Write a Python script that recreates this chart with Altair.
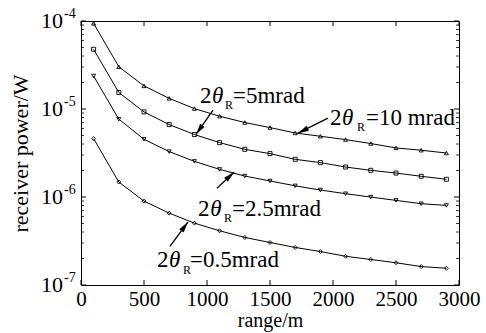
import altair as alt
import pandas as pd
import numpy as np

# ---------------- data ----------------
range_m = [100, 300, 500, 700, 900, 1100, 1300, 1500, 1700, 1900, 2100, 2300, 2500, 2700, 2900]
series_names = ["10 mrad", "5 mrad", "2.5 mrad", "0.5 mrad"]
p_10 = [9.4e-5, 3.02e-5, 1.83e-5, 1.32e-5, 1.01e-5, 8.28e-6, 7.02e-6, 6.15e-6, 5.34e-6, 4.90e-6,
        4.49e-6, 4.05e-6, 3.61e-6, 3.40e-6, 3.16e-6]
p_5 = [4.77e-5, 1.54e-5, 9.27e-6, 6.65e-6, 5.13e-6, 4.15e-6, 3.48e-6, 3.11e-6, 2.68e-6, 2.46e-6,
       2.19e-6, 2.01e-6, 1.87e-6, 1.72e-6, 1.59e-6]
p_25 = [2.37e-5, 7.66e-6, 4.53e-6, 3.28e-6, 2.54e-6, 2.06e-6, 1.73e-6, 1.52e-6, 1.34e-6, 1.20e-6,
        1.09e-6, 9.98e-7, 9.15e-7, 8.39e-7, 8.02e-7]
p_05 = [4.61e-6, 1.48e-6, 8.98e-7, 6.56e-7, 5.05e-7, 4.13e-7, 3.47e-7, 3.04e-7, 2.67e-7, 2.40e-7,
        2.12e-7, 1.95e-7, 1.79e-7, 1.62e-7, 1.55e-7]
x_ticks = [0, 500, 1000, 1500, 2000, 2500, 3000]
y_ticks = [1e-7, 1e-6, 1e-5, 1e-4]
y_exponents = ["-7", "-6", "-5", "-4"]

# annotation labels (2θ_R = ...)
ann_main = ["2", "2", "2", "2"]
ann_theta = ["θ", "θ", "θ", "θ"]
ann_value = ["=5mrad", "=10 mrad", "=2.5mrad", "=0.5mrad"]

# ---------------- layout ----------------
W, H = 378, 264
FONT = "Liberation Serif, Times New Roman, serif"
shapes = ["triangle-up", "square", "triangle-down", "diamond"]

rows = []
for name, vals in zip(series_names, [p_10, p_5, p_25, p_05]):
    for r, v in zip(range_m, vals):
        rows.append({"x": r, "y": v, "series": name})
df = pd.DataFrame(rows)

xs = alt.Scale(domain=[0, 3000], nice=False, zero=False)
ys = alt.Scale(type="log", domain=[1e-7, 1e-4], nice=False)

X = alt.X("x:Q", scale=xs)
Y = alt.Y("y:Q", scale=ys)

main_x = alt.X("x:Q", scale=xs, title="range/m",
               axis=alt.Axis(values=x_ticks, format="d", ticks=False, domain=False, grid=False,
                             labelFont=FONT, labelFontSize=21, labelColor="black",
                             labelPadding=3, labelFlush=False,
                             titleFont=FONT, titleFontSize=20, titleFontWeight="normal",
                             titleColor="black", titlePadding=1))
main_y = alt.Y("y:Q", scale=ys, title="receiver power/W",
               axis=alt.Axis(labels=False, ticks=False, domain=False, grid=False,
                             titleFont=FONT, titleFontSize=22, titleFontWeight="normal",
                             titleColor="black", titlePadding=49))

lines = alt.Chart(df).mark_line(color="black", strokeWidth=1).encode(
    x=main_x, y=main_y, detail="series:N")
points = alt.Chart(df).mark_point(filled=False, color="black", size=16, strokeWidth=0.9, opacity=1).encode(
    x=X, y=Y, shape=alt.Shape("series:N", scale=alt.Scale(domain=series_names, range=shapes), legend=None))

# ticks (inward)
xt = pd.DataFrame({"x": x_ticks})
minor = [m * d for d in [1e-7, 1e-6, 1e-5] for m in range(2, 10)]
yt = pd.DataFrame({"y": y_ticks})
ym = pd.DataFrame({"y": minor})
tick_layers = [
    alt.Chart(xt).mark_rule(color="black", strokeWidth=1).encode(x=X, y=alt.value(H), y2=alt.value(H - 5)),
    alt.Chart(xt).mark_rule(color="black", strokeWidth=1).encode(x=X, y=alt.value(0), y2=alt.value(5)),
    alt.Chart(yt).mark_rule(color="black", strokeWidth=1).encode(y=Y, x=alt.value(0), x2=alt.value(5)),
    alt.Chart(yt).mark_rule(color="black", strokeWidth=1).encode(y=Y, x=alt.value(W), x2=alt.value(W - 5)),
    alt.Chart(ym).mark_rule(color="black", strokeWidth=0.8).encode(y=Y, x=alt.value(0), x2=alt.value(3)),
    alt.Chart(ym).mark_rule(color="black", strokeWidth=0.8).encode(y=Y, x=alt.value(W), x2=alt.value(W - 3)),
]

# y tick labels as 10^n
ylab = pd.DataFrame({"y": y_ticks, "exp": y_exponents})
ten = alt.Chart(ylab).mark_text(font=FONT, fontSize=22, align="right", baseline="middle", color="black").encode(
    y=Y, x=alt.value(-18), text=alt.value("10"))
expo = alt.Chart(ylab).mark_text(font=FONT, fontSize=14, align="left", baseline="middle", color="black", dy=-7).encode(
    y=Y, x=alt.value(-17), text="exp:N")

# annotation placement (data units)
ann_x = [944, 1976, 929, 603]
ann_y = [1.17e-5, 6.58e-6, 6.08e-7, 1.60e-7]
theta_x = [1040, 2072, 1025, 699]
sub_x = [1143, 2190, 1135, 810]
sub_y = [1.0e-5, 5.62e-6, 5.2e-7, 1.33e-7]
val_x = [1206, 2262, 1198, 865]
tail_x = [1048, 1960, 1079, 706]
tail_y = [9.7e-6, 7.87e-6, 1.256e-6, 2.74e-7]
head_x = [913, 1722, 1214, 849]
head_y = [5.16e-6, 5.31e-6, 1.91e-6, 5.2e-7]

def px(x):
    return np.array(x) * W / 3000.0

def py(y):
    return (-4 - np.log10(np.array(y))) * H / 3.0

dxp = px(head_x) - px(tail_x)
dyp = py(head_y) - py(tail_y)
angles = (np.degrees(np.arctan2(dxp, -dyp)) + 360) % 360

two_df = pd.DataFrame({"x": ann_x, "y": ann_y, "t": ann_main})
theta_df = pd.DataFrame({"x": theta_x, "y": ann_y, "t": ann_theta})
sub_df = pd.DataFrame({"x": sub_x, "y": sub_y, "t": ["R"] * 4})
val_df = pd.DataFrame({"x": val_x, "y": ann_y, "t": ann_value})
arr_df = pd.DataFrame({"x": tail_x, "y": tail_y, "x2": head_x, "y2": head_y})
head_df = pd.DataFrame({"x": head_x, "y": head_y, "a": angles})

txt_kw = dict(font=FONT, align="left", baseline="alphabetic", color="black")
ann_layers = [
    alt.Chart(two_df).mark_text(fontSize=23, **txt_kw).encode(x=X, y=Y, text="t:N"),
    alt.Chart(theta_df).mark_text(fontSize=23, fontStyle="italic", **txt_kw).encode(x=X, y=Y, text="t:N"),
    alt.Chart(sub_df).mark_text(fontSize=12, **txt_kw).encode(x=X, y=Y, text="t:N"),
    alt.Chart(val_df).mark_text(fontSize=23, **txt_kw).encode(x=X, y=Y, text="t:N"),
    alt.Chart(arr_df).mark_rule(color="black", strokeWidth=1.3).encode(
        x=X, y=Y, x2="x2:Q", y2="y2:Q"),
    alt.Chart(head_df).mark_point(shape="M0,0L0.5,2L-0.5,2Z", filled=True, color="black",
                                  size=121, opacity=1, strokeWidth=0).encode(
        x=X, y=Y, angle=alt.Angle("a:Q", scale=None)),
]

chart = alt.layer(lines, points, *tick_layers, ten, expo, *ann_layers).properties(
    width=W, height=H,
    autosize=alt.AutoSizeParams(type="none"),
    padding={"left": 81, "top": 21, "right": 27, "bottom": 48},
    background="white",
).configure_view(stroke="black", strokeWidth=1)

chart.save("out.html", embed_options={"renderer": "svg", "actions": False})
